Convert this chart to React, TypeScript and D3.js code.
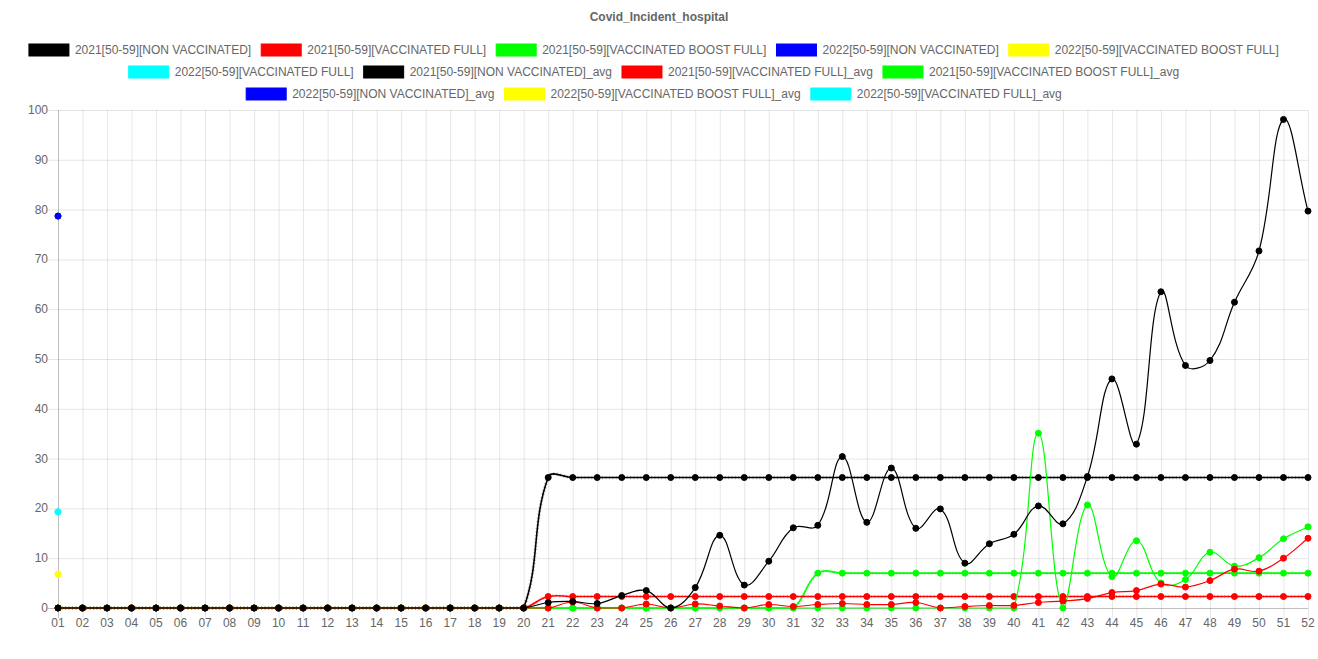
import React, { useMemo } from 'react';
import * as d3 from 'd3';

const TITLE = 'Covid_Incident_hospital';

const WEEKS = [
  '01','02','03','04','05','06','07','08','09','10','11','12','13',
  '14','15','16','17','18','19','20','21','22','23','24','25','26',
  '27','28','29','30','31','32','33','34','35','36','37','38','39',
  '40','41','42','43','44','45','46','47','48','49','50','51','52',
];

const Y_TICKS = [0, 10, 20, 30, 40, 50, 60, 70, 80, 90, 100];

const NON_VACC_2021 = [
  0, 0, 0, 0, 0, 0, 0, 0, 0, 0, 0, 0, 0, 0, 0, 0, 0, 0, 0, 0,
  1.1, 1.3, 0.9, 2.5, 3.5, 0, 4.1, 14.6, 4.6, 9.4, 16.1, 16.6, 30.4, 17.2, 28.1, 16.0,
  19.9, 9.0, 12.9, 14.8, 20.5, 16.9, 26.4, 46.0, 32.9, 63.5, 48.7, 49.7, 61.4, 71.7, 98.1, 79.7,
];
const VACC_FULL_2021 = [
  0, 0, 0, 0, 0, 0, 0, 0, 0, 0, 0, 0, 0, 0, 0, 0, 0, 0, 0, 0,
  0, 1.2, 0, 0, 0.8, 0, 0.8, 0.4, 0, 0.7, 0.3, 0.7, 0.9, 0.7, 0.7, 1.1,
  0, 0.3, 0.5, 0.5, 1.1, 1.4, 1.9, 3.1, 3.5, 4.8, 4.2, 5.5, 7.8, 7.4, 10.0, 14.0,
];
const VACC_BOOST_2021 = [
  0, 0, 0, 0, 0, 0, 0, 0, 0, 0, 0, 0, 0, 0, 0, 0, 0, 0, 0, 0,
  0, 0, 0, 0, 0, 0, 0, 0, 0, 0, 0, 0, 0, 0, 0, 0, 0, 0, 0, 0,
  35.1, 0, 20.7, 6.3, 13.5, 5.0, 5.7, 11.2, 8.4, 10.1, 13.9, 16.3,
];
const NON_VACC_2022 = [78.7];
const VACC_BOOST_2022 = [6.8];
const VACC_FULL_2022 = [19.3];

const NON_VACC_2021_AVG = [
  0, 0, 0, 0, 0, 0, 0, 0, 0, 0, 0, 0, 0, 0, 0, 0, 0, 0, 0, 0,
  26.2, 26.2, 26.2, 26.2, 26.2, 26.2, 26.2, 26.2, 26.2, 26.2, 26.2, 26.2, 26.2, 26.2, 26.2, 26.2,
  26.2, 26.2, 26.2, 26.2, 26.2, 26.2, 26.2, 26.2, 26.2, 26.2, 26.2, 26.2, 26.2, 26.2, 26.2, 26.2,
];
const VACC_FULL_2021_AVG = [
  0, 0, 0, 0, 0, 0, 0, 0, 0, 0, 0, 0, 0, 0, 0, 0, 0, 0, 0, 0,
  2.3, 2.3, 2.3, 2.3, 2.3, 2.3, 2.3, 2.3, 2.3, 2.3, 2.3, 2.3, 2.3, 2.3, 2.3, 2.3,
  2.3, 2.3, 2.3, 2.3, 2.3, 2.3, 2.3, 2.3, 2.3, 2.3, 2.3, 2.3, 2.3, 2.3, 2.3, 2.3,
];
const VACC_BOOST_2021_AVG = [
  0, 0, 0, 0, 0, 0, 0, 0, 0, 0, 0, 0, 0, 0, 0, 0, 0, 0, 0, 0,
  0, 0, 0, 0, 0, 0, 0, 0, 0, 0, 0, 7.0, 7.0, 7.0, 7.0, 7.0,
  7.0, 7.0, 7.0, 7.0, 7.0, 7.0, 7.0, 7.0, 7.0, 7.0, 7.0, 7.0, 7.0, 7.0, 7.0, 7.0,
];
const NON_VACC_2022_AVG = [78.7];
const VACC_BOOST_2022_AVG = [6.8];
const VACC_FULL_2022_AVG = [19.3];

const SERIES_NAMES = [
  '2021[50-59][NON VACCINATED]',
  '2021[50-59][VACCINATED FULL]',
  '2021[50-59][VACCINATED BOOST FULL]',
  '2022[50-59][NON VACCINATED]',
  '2022[50-59][VACCINATED BOOST FULL]',
  '2022[50-59][VACCINATED FULL]',
  '2021[50-59][NON VACCINATED]_avg',
  '2021[50-59][VACCINATED FULL]_avg',
  '2021[50-59][VACCINATED BOOST FULL]_avg',
  '2022[50-59][NON VACCINATED]_avg',
  '2022[50-59][VACCINATED BOOST FULL]_avg',
  '2022[50-59][VACCINATED FULL]_avg',
];
const SERIES_COLORS = [
  '#000000', '#ff0000', '#00ff00', '#0000ff', '#ffff00', '#00ffff',
  '#000000', '#ff0000', '#00ff00', '#0000ff', '#ffff00', '#00ffff',
];
const SERIES_DATA = [
  NON_VACC_2021, VACC_FULL_2021, VACC_BOOST_2021, NON_VACC_2022, VACC_BOOST_2022, VACC_FULL_2022,
  NON_VACC_2021_AVG, VACC_FULL_2021_AVG, VACC_BOOST_2021_AVG, NON_VACC_2022_AVG, VACC_BOOST_2022_AVG, VACC_FULL_2022_AVG,
];
const LEGEND_ROWS = [5, 4, 3];

const FONT = "'Liberation Sans', Arial, Helvetica, sans-serif";
const W = 1318;
const H = 659;
const AREA = { left: 58, right: 1308, top: 110, bottom: 608 };

// Chart.js-like spline (tension 0.4, control points capped to chart area)
function chartJsCurve(tension: number) {
  return (context: any) => {
    let pts: [number, number][] = [];
    const clampX = (v: number) => Math.max(AREA.left, Math.min(AREA.right, v));
    const clampY = (v: number) => Math.max(AREA.top, Math.min(AREA.bottom, v));
    return {
      areaStart() {},
      areaEnd() {},
      lineStart() { pts = []; },
      point(x: number, y: number) { pts.push([+x, +y]); },
      lineEnd() {
        const n = pts.length;
        if (!n) return;
        const cps = pts.map((p, i) => {
          const prev = pts[i - 1] || p;
          const next = pts[i + 1] || p;
          const d01 = Math.hypot(p[0] - prev[0], p[1] - prev[1]);
          const d12 = Math.hypot(next[0] - p[0], next[1] - p[1]);
          let s01 = d01 / (d01 + d12);
          let s12 = d12 / (d01 + d12);
          if (isNaN(s01)) s01 = 0;
          if (isNaN(s12)) s12 = 0;
          const fa = tension * s01;
          const fb = tension * s12;
          return {
            prev: [clampX(p[0] - fa * (next[0] - prev[0])), clampY(p[1] - fa * (next[1] - prev[1]))],
            next: [clampX(p[0] + fb * (next[0] - prev[0])), clampY(p[1] + fb * (next[1] - prev[1]))],
          };
        });
        context.moveTo(pts[0][0], pts[0][1]);
        if (n === 1) context.lineTo(pts[0][0], pts[0][1]);
        for (let i = 1; i < n; i++) {
          context.bezierCurveTo(
            cps[i - 1].next[0], cps[i - 1].next[1],
            cps[i].prev[0], cps[i].prev[1],
            pts[i][0], pts[i][1]
          );
        }
      },
    };
  };
}

function measure(text: string, font: string): number {
  const c = document.createElement('canvas').getContext('2d');
  if (!c) return text.length * 6.5;
  c.font = font;
  return c.measureText(text).width;
}

export default function App() {
  const x = d3.scalePoint<string>().domain(WEEKS).range([AREA.left, AREA.right]);
  const y = d3.scaleLinear().domain([0, 100]).range([AREA.bottom, AREA.top]);

  const line = d3
    .line<number | undefined>()
    .defined((d) => d !== undefined && d !== null)
    .x((_, i) => x(WEEKS[i]) as number)
    .y((d) => y(d as number))
    .curve(chartJsCurve(0.4) as any);

  const legend = useMemo(() => {
    const items: { x: number; y: number; name: string; color: string }[] = [];
    let idx = 0;
    const center = 654;
    LEGEND_ROWS.forEach((count, r) => {
      const names = SERIES_NAMES.slice(idx, idx + count);
      const widths = names.map((nm) => 46 + measure(nm, `12px ${FONT}`));
      const total = d3.sum(widths) + 10 * (count - 1);
      let cx = center - total / 2;
      names.forEach((nm, k) => {
        items.push({ x: cx, y: 50 + r * 22, name: nm, color: SERIES_COLORS[idx + k] });
        cx += widths[k] + 10;
      });
      idx += count;
    });
    return items;
  }, []);

  const order = d3.range(SERIES_DATA.length).reverse();

  return (
    <svg width={W} height={H} style={{ position: 'absolute', left: 0, top: 0, background: '#fff' }} fontFamily={FONT}>
      <text x={659} y={17} textAnchor="middle" dominantBaseline="central" fontSize={12} fontWeight="bold" fill="#666">
        {TITLE}
      </text>
      {legend.map((it, i) => (
        <g key={i}>
          <rect x={it.x} y={it.y - 6} width={40} height={12} fill={it.color} stroke={it.color} strokeWidth={1} />
          <text x={it.x + 46} y={it.y} dominantBaseline="central" fontSize={12} fill="#666">
            {it.name}
          </text>
        </g>
      ))}
      {/* grid */}
      {Y_TICKS.map((t) => (
        <g key={'y' + t}>
          <line
            x1={AREA.left - 10}
            x2={AREA.right}
            y1={y(t) + 0.5}
            y2={y(t) + 0.5}
            stroke={t === 0 ? 'rgba(0,0,0,0.25)' : 'rgba(0,0,0,0.1)'}
          />
          <text x={48} y={y(t)} textAnchor="end" dominantBaseline="central" fontSize={12} fill="#666">
            {t}
          </text>
        </g>
      ))}
      {WEEKS.map((w, i) => (
        <g key={'x' + w}>
          <line
            x1={(x(w) as number) + 0.5}
            x2={(x(w) as number) + 0.5}
            y1={AREA.top}
            y2={AREA.bottom + 10}
            stroke={i === 0 ? 'rgba(0,0,0,0.25)' : 'rgba(0,0,0,0.1)'}
          />
          <text x={x(w) as number} y={623} textAnchor="middle" dominantBaseline="central" fontSize={12} fill="#666">
            {w}
          </text>
        </g>
      ))}
      {/* series */}
      {order.map((si) => {
        const data = WEEKS.map((_, i) => SERIES_DATA[si][i]);
        const d = line(data) || '';
        const color = SERIES_COLORS[si];
        const isAvg = si >= 6;
        return (
          <g key={'s' + si}>
            <path d={d} fill="none" stroke={color} strokeWidth={isAvg ? 1.6 : 1.2} />
            {isAvg && (
              <path d={d} fill="none" stroke={color} strokeWidth={3.5} strokeDasharray="1 2.5" opacity={0.3} />
            )}
            {data.map((v, i) =>
              v === undefined || v === null ? null : (
                <circle key={i} cx={x(WEEKS[i]) as number} cy={y(v)} r={3} fill={color} stroke={color} strokeWidth={1} />
              )
            )}
          </g>
        );
      })}
    </svg>
  );
}
